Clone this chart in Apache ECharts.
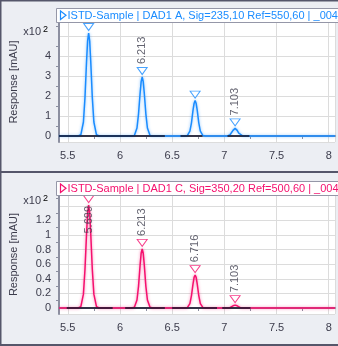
<!DOCTYPE html>
<html><head><meta charset="utf-8">
<script src="https://cdn.jsdelivr.net/npm/echarts@6/dist/echarts.min.js"></script>
<style>html,body{margin:0;padding:0;background:#eceef3;overflow:hidden}#c{width:338px;height:346px}</style>
</head><body><div id="c"></div>
<script>
// ---- data ----
const times = [5.416,
  5.600, 5.625, 5.650, 5.665, 5.680, 5.690, 5.700, 5.710, 5.720, 5.735, 5.750, 5.775, 5.800,
  6.113, 6.138, 6.163, 6.178, 6.193, 6.203, 6.213, 6.223, 6.233, 6.248, 6.263, 6.288, 6.313,
  6.620, 6.645, 6.670, 6.685, 6.700, 6.710, 6.720, 6.730, 6.740, 6.755, 6.770, 6.795, 6.820,
  7.003, 7.028, 7.053, 7.068, 7.083, 7.093, 7.103, 7.113, 7.123, 7.138, 7.153, 7.178, 7.203,
  8.06];
const signalA = [0,
  0, 0.06, 0.70, 1.93, 3.74, 4.75, 5.15, 4.75, 3.74, 1.93, 0.70, 0.06, 0,
  0, 0.03, 0.40, 1.11, 2.14, 2.72, 2.95, 2.72, 2.14, 1.11, 0.40, 0.03, 0,
  0, 0.02, 0.24, 0.66, 1.29, 1.63, 1.77, 1.63, 1.29, 0.66, 0.24, 0.02, 0,
  0, 0.00, 0.05, 0.14, 0.28, 0.35, 0.38, 0.35, 0.28, 0.14, 0.05, 0.00, 0,
  0];
const signalC = [0,
  0, 0.02, 0.19, 0.53, 1.02, 1.30, 1.41, 1.30, 1.02, 0.53, 0.19, 0.02, 0,
  0, 0.01, 0.11, 0.30, 0.59, 0.75, 0.81, 0.75, 0.59, 0.30, 0.11, 0.01, 0,
  0, 0.005, 0.06, 0.17, 0.33, 0.42, 0.45, 0.42, 0.33, 0.17, 0.06, 0.005, 0,
  0, 0.00, 0.005, 0.015, 0.03, 0.037, 0.04, 0.037, 0.03, 0.015, 0.005, 0.00, 0,
  0];
const peakTimes = [5.700, 6.213, 6.720, 7.103];
const peakHeightsA = [5.15, 2.95, 1.77, 0.38];
const peakLabelsA = ['', '6.213', '', '7.103'];
const peakHeightsC = [1.41, 0.81, 0.45, 0.04];
const peakLabelsC = ['5.699', '6.213', '6.716', '7.103'];
const baseStartA = [5.416, 6.58, 7.03];
const baseEndA = [6.43, 6.79, 7.24];
const baseStartC = [5.49, 6.05, 6.50, 6.98];
const baseEndC = [5.93, 6.43, 6.93, 7.25];
const yLabelsA = ['0', '1', '2', '3', '4'];
const yLabelsC = ['0', '0.2', '0.4', '0.6', '0.8', '1', '1.2'];
const titleA = 'ISTD-Sample | DAD1 A, Sig=235,10 Ref=550,60 | _004_ISTD.D';
const titleC = 'ISTD-Sample | DAD1 C, Sig=350,20 Ref=500,60 | _004_ISTD.D';
const yName = 'Response [mAU]';
const multiplier = 'x10';

// ---- styling ----
const BLUE = '#1a8cff', PINK = '#f5106e', TXT = '#3c3c4c', GRID = '#dcdcdc', AXIS = '#8c8fa0';
const FONT = 'Liberation Sans, Arial, sans-serif';

function xAxis(gi) {
  return {
    type: 'value', gridIndex: gi, min: 5.416, max: 8.06, minInterval: 0.5, maxInterval: 0.5,
    axisLine: { lineStyle: { color: AXIS, width: 2 } },
    axisTick: { show: false },
    minorTick: { show: true, splitNumber: 2, length: 3, lineStyle: { color: AXIS } },
    splitLine: { show: true, lineStyle: { color: GRID, width: 1 } },
    axisLabel: { color: TXT, fontSize: 11, fontFamily: FONT, margin: 8,
      formatter: v => { const k = v * 2; return Math.abs(k - Math.round(k)) < 1e-6 ? String(v) : ''; } }
  };
}
function yAxis(gi, min, max, step, labels) {
  return {
    type: 'value', gridIndex: gi, min: min, max: max, minInterval: step, maxInterval: step,
    name: yName, nameLocation: 'middle', nameGap: 40,
    nameTextStyle: { color: TXT, fontSize: 11, fontFamily: FONT },
    axisLine: { show: true, lineStyle: { color: AXIS, width: 2 } },
    axisTick: { show: false },
    minorTick: { show: true, splitNumber: 2, length: 3, lineStyle: { color: AXIS } },
    splitLine: { show: true, lineStyle: { color: GRID, width: 1 } },
    axisLabel: { color: TXT, fontSize: 11, fontFamily: FONT, margin: 8,
      formatter: v => { const k = v / step; const r = Math.round(k);
        return (Math.abs(k - r) < 1e-6 && r >= 0 && r < labels.length) ? labels[r] : ''; } }
  };
}
function pairs(xs, ys) { return xs.map((x, i) => [x, ys[i]]); }
function segs(s, e) { return s.map((x, i) => ({ coords: [[x, 0], [e[i], 0]] })); }
function peaks(h, labels, color, belowFirst) {
  return peakTimes.map((t, i) => {
    const item = { value: [t, h[i]], label: { show: labels[i] !== '', formatter: labels[i] } };
    if (belowFirst && i === 0) {
      item.label.position = 'bottom'; item.label.align = 'right'; item.label.distance = 3;
    }
    return item;
  });
}
function signalSeries(gi, ys, color) {
  return { type: 'line', xAxisIndex: gi, yAxisIndex: gi, data: pairs(times, ys), showSymbol: false,
    lineStyle: { color: color, width: 1.5, shadowBlur: 3, shadowColor: color + '88' }, z: 3, animation: false };
}
function baseSeries(gi, s, e) {
  return { type: 'lines', coordinateSystem: 'cartesian2d', xAxisIndex: gi, yAxisIndex: gi,
    data: segs(s, e), lineStyle: { color: '#14142a', width: 1.5, opacity: 1 }, z: 4, animation: false };
}
function peakSeries(gi, h, labels, color, belowFirst) {
  return { type: 'scatter', xAxisIndex: gi, yAxisIndex: gi, data: peaks(h, labels, color, belowFirst),
    symbol: 'triangle', symbolRotate: 180, symbolSize: [10, 7], symbolOffset: [0, -6],
    itemStyle: { color: 'rgba(255,255,255,0.6)', borderColor: color, borderWidth: 1 },
    label: { show: true, position: 'top', rotate: 90, align: 'left', verticalAlign: 'middle', distance: 3,
      color: TXT, fontSize: 11, fontFamily: FONT },
    z: 5, animation: false, silent: true };
}
function titleGraphic(y, text, color) {
  return [
    { type: 'rect', shape: { x: 56.5, y: y + 0.5, width: 300, height: 14 },
      style: { fill: '#fff', stroke: '#9597a8', lineWidth: 1 }, z: 10 },
    { type: 'polygon', shape: { points: [[60.5, y + 3], [60.5, y + 11.5], [66, y + 7.25]] },
      style: { fill: 'none', stroke: color, lineWidth: 1.2 }, z: 11 },
    { type: 'text', x: 67.5, y: y + 7.5, style: { text: text, fill: color, fontSize: 11, fontFamily: FONT,
      verticalAlign: 'middle', align: 'left' }, z: 11 }
  ];
}
function multGraphic(y) {
  return { type: 'text', x: 48, y: y, z: 11, style: { text: '{a|' + multiplier + '}{b|2}', align: 'right', verticalAlign: 'middle',
    rich: { a: { fontSize: 11, fontFamily: FONT, fill: TXT, color: TXT },
            b: { fontSize: 9, fontFamily: FONT, color: TXT, verticalAlign: 'top', padding: [0, 0, 5, 2] } } } };
}

const chart = echarts.init(document.getElementById('c'), null, { renderer: 'canvas' });
chart.setOption({
  backgroundColor: '#eceef3',
  animation: false,
  grid: [
    { left: 56, right: 0, top: 22, height: 120, show: true, backgroundColor: '#fff', borderWidth: 0 },
    { left: 56, right: 0, top: 195, height: 119, show: true, backgroundColor: '#fff', borderWidth: 0 }
  ],
  xAxis: [xAxis(0), xAxis(1)],
  yAxis: [yAxis(0, -0.3, 5.7, 1, yLabelsA), yAxis(1, -0.082, 1.548, 0.2, yLabelsC)],
  series: [
    signalSeries(0, signalA, BLUE), baseSeries(0, baseStartA, baseEndA), peakSeries(0, peakHeightsA, peakLabelsA, BLUE, false),
    signalSeries(1, signalC, PINK), baseSeries(1, baseStartC, baseEndC), peakSeries(1, peakHeightsC, peakLabelsC, PINK, true)
  ],
  graphic: [].concat(
    titleGraphic(8, titleA, BLUE), titleGraphic(181, titleC, PINK),
    [multGraphic(32), multGraphic(201),
     { type: 'rect', shape: { x: 0, y: 0, width: 338, height: 1.5 }, style: { fill: '#55566a' }, z: 20 },
     { type: 'rect', shape: { x: 0, y: 171, width: 338, height: 2 }, style: { fill: '#55566a' }, z: 20 },
     { type: 'rect', shape: { x: 0, y: 344, width: 338, height: 2 }, style: { fill: '#55566a' }, z: 20 },
     { type: 'rect', shape: { x: 0, y: 0, width: 1.5, height: 346 }, style: { fill: '#55566a' }, z: 20 }]
  )
});
</script></body></html>
